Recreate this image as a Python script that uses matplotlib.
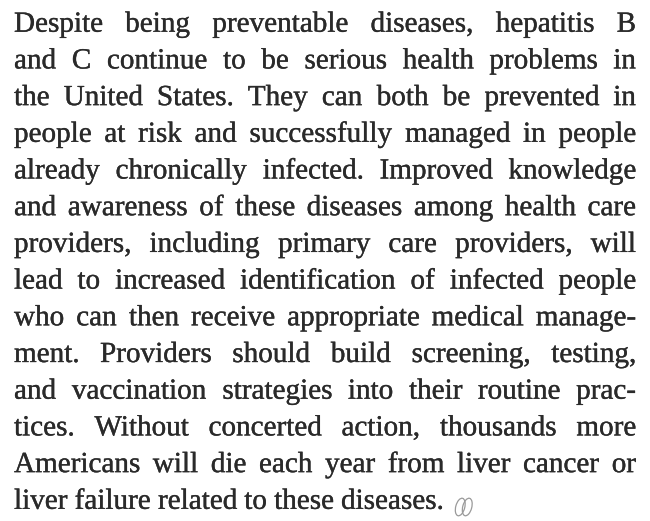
import matplotlib
matplotlib.use("Agg")
import matplotlib.pyplot as plt
from matplotlib import font_manager
from matplotlib.patches import Ellipse
import matplotlib.patheffects as pe

# paragraph, already broken into the lines seen in the picture
lines = [
    "Despite being preventable diseases, hepatitis B",
    "and C continue to be serious health problems in",
    "the United States. They can both be prevented in",
    "people at risk and successfully managed in people",
    "already chronically infected. Improved knowledge",
    "and awareness of these diseases among health care",
    "providers, including primary care providers, will",
    "lead to increased identification of infected people",
    "who can then receive appropriate medical manage-",
    "ment. Providers should build screening, testing,",
    "and vaccination strategies into their routine prac-",
    "tices. Without concerted action, thousands more",
    "Americans will die each year from liver cancer or",
    "liver failure related to these diseases.",
]

W, H = 650, 521
left, right = 14, 636
first_base = 31.7
lead = 36.7
fsize = 21.0
color = "#2a2a2a"

fp = font_manager.FontProperties(family="Liberation Serif", size=fsize)

fig = plt.figure(figsize=(W / 100, H / 100), dpi=100)
fig.patch.set_facecolor("white")
r = fig.canvas.get_renderer()
thick = [pe.withStroke(linewidth=0.25, foreground=color)]

def word_w(w):
    t = fig.text(0, 0, w, fontproperties=fp)
    bb = t.get_window_extent(r)
    t.remove()
    return bb.width

space_w = word_w("a a") - 2 * word_w("a")

end_x = left
for i, ln in enumerate(lines):
    words = ln.split(" ")
    widths = [word_w(w) for w in words]
    y = 1 - (first_base + i * lead) / H
    last = i == len(lines) - 1
    if last or len(words) == 1:
        gap = space_w
    else:
        gap = (right - left - sum(widths)) / (len(words) - 1)
    x = left
    for w, wd in zip(words, widths):
        fig.text(x / W, y, w, fontproperties=fp, color=color,
                 va="baseline", ha="left", path_effects=thick)
        x += wd + gap
    end_x = x - gap

# small grey end mark after the last word
ax = fig.add_axes([0, 0, 1, 1])
ax.set_xlim(0, W)
ax.set_ylim(H, 0)
ax.axis("off")
cx = end_x + 20
for dx in (-3.5, 3.5):
    ax.add_patch(Ellipse((cx + dx, 507), 9, 18, angle=15, fill=False,
                         ec="#9a9a9a", lw=0.9))

fig.savefig("out.png", dpi=100, facecolor="white")
